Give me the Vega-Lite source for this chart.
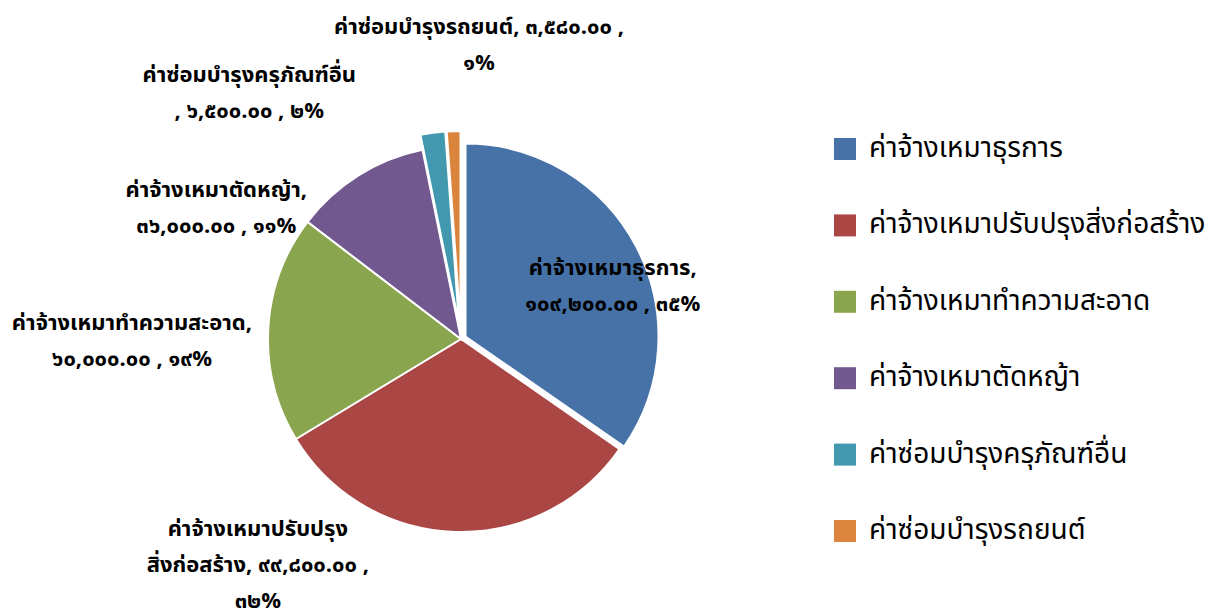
{
  "$schema": "https://vega.github.io/schema/vega-lite/v6.json",
  "width": 922,
  "height": 544,
  "autosize": "none",
  "padding": {"top": 67, "left": 0, "right": 283, "bottom": 0},
  "background": "white",
  "config": {"view": {"stroke": null}, "font": "Noto Sans Thai, Loma, Garuda, Noto Sans, sans-serif"},
  "data": {"values": [
    {"category": "ค่าจ้างเหมาธุรการ", "value": 109200, "label": "ค่าจ้างเหมาธุรการ,\n๑๐๙,๒๐๐.๐๐ , ๓๕%"},
    {"category": "ค่าจ้างเหมาปรับปรุงสิ่งก่อสร้าง", "value": 99800, "label": "ค่าจ้างเหมาปรับปรุง\nสิ่งก่อสร้าง,  ๙๙,๘๐๐.๐๐ ,\n๓๒%"},
    {"category": "ค่าจ้างเหมาทำความสะอาด", "value": 60000, "label": "ค่าจ้างเหมาทำความสะอาด,\n๖๐,๐๐๐.๐๐ , ๑๙%"},
    {"category": "ค่าจ้างเหมาตัดหญ้า", "value": 36000, "label": "ค่าจ้างเหมาตัดหญ้า,\n๓๖,๐๐๐.๐๐ , ๑๑%"},
    {"category": "ค่าซ่อมบำรุงครุภัณฑ์อื่น", "value": 6500, "label": "ค่าซ่อมบำรุงครุภัณฑ์อื่น\n, ๖,๕๐๐.๐๐ , ๒%"},
    {"category": "ค่าซ่อมบำรุงรถยนต์", "value": 3580, "label": "ค่าซ่อมบำรุงรถยนต์,  ๓,๕๘๐.๐๐ ,\n๑%"}
  ]},
  "encoding": {
    "theta": {"field": "value", "type": "quantitative", "stack": true},
    "order": {"field": "value", "sort": "descending"},
    "color": {
      "field": "category", "type": "nominal",
      "scale": {
        "domain": ["ค่าจ้างเหมาธุรการ", "ค่าจ้างเหมาปรับปรุงสิ่งก่อสร้าง", "ค่าจ้างเหมาทำความสะอาด", "ค่าจ้างเหมาตัดหญ้า", "ค่าซ่อมบำรุงครุภัณฑ์อื่น", "ค่าซ่อมบำรุงรถยนต์"],
        "range": ["#4672A8", "#AA4644", "#89A54E", "#71588F", "#4198AF", "#DB843D"]
      },
      "legend": {
        "orient": "none", "legendX": 831, "legendY": 68, "title": null,
        "symbolType": "square", "symbolSize": 484, "symbolStrokeWidth": 0,
        "labelFontSize": 28, "labelColor": "#000000", "labelOffset": 10,
        "rowPadding": 48.4, "padding": 0, "labelLimit": 400
      }
    }
  },
  "layer": [
    {
      "mark": {"type": "arc", "outerRadius": 193, "stroke": "white", "strokeWidth": 2},
      "encoding": {"opacity": {"condition": {"test": "datum.category === 'ค่าจ้างเหมาธุรการ' || datum.category === 'ค่าซ่อมบำรุงครุภัณฑ์อื่น' || datum.category === 'ค่าซ่อมบำรุงรถยนต์'", "value": 0}, "value": 1}}
    },
    {
      "mark": {"type": "arc", "outerRadius": 193, "stroke": "white", "strokeWidth": 2, "xOffset": 4.5, "yOffset": -2.5},
      "encoding": {"opacity": {"condition": {"test": "datum.category === 'ค่าจ้างเหมาธุรการ'", "value": 1}, "value": 0}}
    },
    {
      "mark": {"type": "arc", "outerRadius": 193, "stroke": "white", "strokeWidth": 2, "xOffset": -2, "yOffset": -15},
      "encoding": {"opacity": {"condition": {"test": "datum.category === 'ค่าซ่อมบำรุงครุภัณฑ์อื่น'", "value": 1}, "value": 0}}
    },
    {
      "mark": {"type": "arc", "outerRadius": 193, "stroke": "white", "strokeWidth": 2, "xOffset": -0.5, "yOffset": -15},
      "encoding": {"opacity": {"condition": {"test": "datum.category === 'ค่าซ่อมบำรุงรถยนต์'", "value": 1}, "value": 0}}
    },
    {
      "mark": {"type": "text", "radius": 160, "dx": 10, "dy": 3, "fontSize": 22, "fontWeight": "bold", "lineBreak": "\n", "lineHeight": 36, "align": "center", "baseline": "middle"},
      "encoding": {"color": {"value": "black"}, "text": {"condition": {"test": "datum.category === 'ค่าจ้างเหมาธุรการ'", "field": "label"}, "value": ""}}
    },
    {
      "mark": {"type": "text", "radius": 230, "dx": -196, "dy": -40, "fontSize": 22, "fontWeight": "bold", "lineBreak": "\n", "lineHeight": 36, "align": "center", "baseline": "middle"},
      "encoding": {"color": {"value": "black"}, "text": {"condition": {"test": "datum.category === 'ค่าจ้างเหมาปรับปรุงสิ่งก่อสร้าง'", "field": "label"}, "value": ""}}
    },
    {
      "mark": {"type": "text", "radius": 320, "dx": -9.5, "dy": 1, "fontSize": 22, "fontWeight": "bold", "lineBreak": "\n", "lineHeight": 36, "align": "center", "baseline": "middle"},
      "encoding": {"color": {"value": "black"}, "text": {"condition": {"test": "datum.category === 'ค่าจ้างเหมาทำความสะอาด'", "field": "label"}, "value": ""}}
    },
    {
      "mark": {"type": "text", "radius": 280, "dx": -96, "dy": 88, "fontSize": 22, "fontWeight": "bold", "lineBreak": "\n", "lineHeight": 36, "align": "center", "baseline": "middle"},
      "encoding": {"color": {"value": "black"}, "text": {"condition": {"test": "datum.category === 'ค่าจ้างเหมาตัดหญ้า'", "field": "label"}, "value": ""}}
    },
    {
      "mark": {"type": "text", "radius": 300, "dx": -171, "dy": 33, "fontSize": 22, "fontWeight": "bold", "lineBreak": "\n", "lineHeight": 36, "align": "center", "baseline": "middle"},
      "encoding": {"color": {"value": "black"}, "text": {"condition": {"test": "datum.category === 'ค่าซ่อมบำรุงครุภัณฑ์อื่น'", "field": "label"}, "value": ""}}
    },
    {
      "mark": {"type": "text", "radius": 295, "dx": 28.5, "dy": -17, "fontSize": 22, "fontWeight": "bold", "lineBreak": "\n", "lineHeight": 36, "align": "center", "baseline": "middle"},
      "encoding": {"color": {"value": "black"}, "text": {"condition": {"test": "datum.category === 'ค่าซ่อมบำรุงรถยนต์'", "field": "label"}, "value": ""}}
    }
  ]
}
